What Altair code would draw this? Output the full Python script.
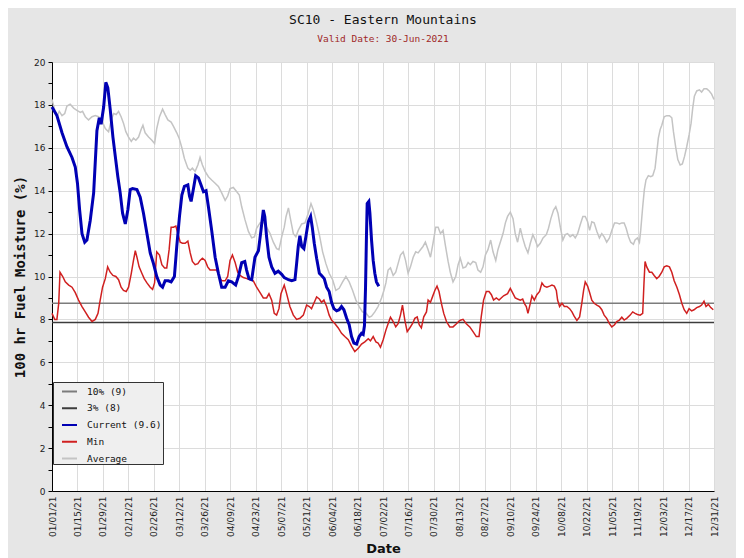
import altair as alt
import pandas as pd

# ---------------- data ----------------
SERIES = ["10% (9)", "3% (8)", "Current (9.6)", "Min", "Average"]
COLORS = ["#7c7c7c", "#3c3c3c", "#0000b4", "#d02020", "#c4c4c4"]

THRESH_NAMES = ["10% (9)", "3% (8)"]
THRESH_VALS = [8.75, 7.85]

# day offsets from 2021-01-01
CUR_DAY = [0, 2.7, 5.5, 8.2, 11, 12.8, 14, 15.2, 16.5, 18, 19.2, 21, 22.9, 24.7, 26, 27, 28.4, 29.6,
           30.7, 32, 33.5, 34.8, 36.2, 37.5, 38.8, 40.3, 41.7, 43, 44.3, 46.7, 48.5, 50.3, 52.2, 54,
           55.8, 57.6, 59.5, 60.8, 62.2, 64, 65.5, 67.3, 68.6, 70.1, 71.4, 72.8, 74.7, 75.6, 76.5,
           77.8, 79, 80.5, 82, 83.3, 84.7, 86, 87.8, 89.7, 91.5, 93.3, 95.2, 97, 98.8, 101, 102.5,
           104.3, 106, 107, 108.3, 109.8, 111.6, 113.5, 114.9, 116.2, 117, 118, 119.3, 120.8, 122.6,
           124.4, 126.3, 127.7, 130, 131.8, 133.6, 134.5, 135.4, 136.3, 137.3, 138.5, 139.6, 140.9,
           142.2, 143.1, 144.2, 145.5, 147, 148.2, 149.7, 151, 152.4, 153.7, 155, 156.5, 157.9,
           159.2, 160.5, 162, 163.4, 164.7, 166, 167.5, 168.9, 170.2, 171.1, 171.8, 172.4, 172.9,
           173.3, 174.2, 174.8, 175.7, 176.6, 177.5, 178.4, 179.7]
CUR_VAL = [17.9, 17.5, 16.7, 16.05, 15.55, 15.1, 14.35, 13.1, 12.0, 11.6, 11.7, 12.6, 13.9, 16.8, 17.4,
           17.1, 17.9, 19.05, 18.8, 17.8, 16.5, 15.6, 14.65, 13.9, 12.95, 12.45, 13.1, 14.05, 14.1,
           14.05, 13.7, 12.95, 12.0, 11.1, 10.6, 10.0, 9.6, 9.5, 9.8, 9.8, 9.75, 10.0, 11.4, 12.8,
           13.8, 14.2, 14.27, 13.75, 13.5, 14.1, 14.7, 14.6, 14.25, 13.95, 14.0, 13.25, 12.15, 10.9,
           10.15, 9.5, 9.5, 9.8, 9.75, 9.6, 10.0, 10.65, 10.7, 10.3, 9.9, 9.85, 10.9, 11.2, 12.15,
           13.1, 12.8, 11.85, 10.9, 10.45, 10.15, 10.25, 10.1, 9.95, 9.85, 9.8, 9.85, 10.6, 11.4,
           11.9, 11.4, 11.3, 11.85, 12.55, 12.8, 12.3, 11.55, 10.85, 10.15, 10.05, 9.9, 9.5, 9.3,
           8.8, 8.5, 8.4, 8.45, 8.6, 8.45, 8.05, 7.75, 7.2, 6.9, 6.85, 7.2, 7.35, 7.3, 7.7, 9.5,
           11.85, 13.4, 13.5, 12.95, 11.7, 10.75, 10.15, 9.75, 9.55]

AVG_DAY = [0, 1.5, 2.7, 4, 5.5, 7, 8.2, 10, 11.9, 13.7, 15.6, 16.8, 18.3, 20.1, 22, 23.8, 25.6, 27.5,
           29.3, 31.1, 32.6, 33.9, 35.3, 36.6, 38, 39.3, 40.6, 42.1, 43.6, 44.8, 46.1, 47.6, 49, 50,
           51.2, 53.1, 54.9, 56.4, 57.6, 59.1, 60.8, 62.2, 63.7, 65.5, 66.8, 68.6, 69.9, 71.4, 72.8,
           74.7, 76, 77.2, 78.7, 80.2, 81.4, 82.7, 84.2, 86, 87.8, 89.7, 91.5, 93.3, 95.2, 96.6,
           97.9, 99.7, 101.6, 103, 104.3, 106.1, 108, 109.8, 111.3, 112.5, 114.4, 116.2, 118,
           119.9, 121.7, 123.5, 124.8, 126.3, 127.7,
           128.7, 130, 131.2, 132.7, 134.1, 135.4, 137.3, 139.1, 140.9, 142.4, 143.7, 145.1, 147,
           148.8, 150.6, 152.4, 154.3, 156.1, 157.9, 159.8, 161.6, 163.4, 165.3, 167.1, 168.9,
           170.7, 172.6, 174.4, 175.7, 177.5, 179.3, 181.2, 182.5, 183.6, 184.8, 186.1, 187.6, 189,
           190.3, 191.6, 193.1, 194.4, 195.8, 197.1, 198.6, 200, 201.3, 202.6, 204, 205.3, 206.8,
           208.1, 209.5, 211, 212.3, 213.6, 215, 216.3, 217.8, 219, 220.5, 222, 223.3, 224.5, 226,
           227.5, 228.8, 230, 231.5, 233, 234.2, 235.7, 237, 238.3, 239.7, 241.2, 242.5, 244, 245.2,
           248, 249.3, 250.5, 252, 253.5, 254.7, 256, 257.5, 258.8, 260.2, 261.7, 263, 264.4, 265.7,
           267, 268.5, 270, 271.8, 273, 274.3, 275.8, 277, 278.2, 279.5, 280.9, 282.2, 283.5, 284.9,
           286.4, 287.7, 289, 290.4, 291.9, 293.2, 294.5, 295.6, 296.8, 298.1, 299.6, 301, 302.3,
           303.6, 305, 306.5, 307.8, 309.3, 310.5, 312, 313.3, 314.6, 315.7, 317, 318.2, 319.7,
           320.6, 321.9, 323, 323.7, 324.8, 325.7, 326.6, 327.9, 329.2, 330.3, 331.6, 332.5, 333.4,
           334.4, 335.3, 336.6, 338, 339.5, 340.8, 341.7, 343, 344.1, 345.4, 346.6, 347.8, 349,
           350.3, 351.4, 352.3, 353.2, 354.5, 356, 357.2, 358.5, 360, 361.4, 362.7, 364]
AVG_VAL = [18.25, 17.75, 17.45, 17.7, 17.5, 17.6, 17.95, 18.03, 17.85, 17.75, 17.65, 17.7, 17.45, 17.3,
           17.45, 17.5, 17.45, 17.25, 16.9, 16.75, 17.3, 17.6, 17.55, 17.7, 17.45, 17.15, 16.75,
           16.5, 16.3, 16.45, 16.35, 16.5, 16.85, 17.05, 16.7, 16.5, 16.35, 16.2, 16.9, 17.45, 17.8,
           17.55, 17.3, 17.2, 17.0, 16.7, 16.45, 16.0, 15.5, 15.05, 14.95, 15.05, 14.9, 15.2, 15.55,
           15.2, 14.9, 14.65, 14.5, 14.35, 14.2, 13.9, 13.55, 13.75, 14.1, 14.15, 13.95, 13.8, 13.25,
           12.65, 12.1, 11.8, 11.85, 12.25, 12.5, 12.55, 12.3, 12.0, 11.6, 11.3, 11.25, 11.85, 12.3,
           12.8, 13.2, 12.65, 12.0, 11.85, 12.15, 12.45, 12.5, 12.95, 13.4, 13.1, 12.65, 11.95,
           11.15, 10.6, 10.15, 9.85, 9.35, 9.45, 9.75, 10.0, 9.75, 9.35, 8.9, 8.6, 8.35, 8.3, 8.1,
           8.15, 8.35, 8.6, 9.0, 9.35, 9.7, 10.3, 10.4, 10.05, 10.2, 10.6, 11.0, 11.15, 10.75, 10.15,
           10.45, 10.9, 11.15, 11.1, 11.25, 11.4, 11.6, 11.25, 10.9, 11.55, 12.3, 12.3, 12.0, 12.15,
           11.45, 10.7, 10.2, 9.75, 10.0, 10.55, 10.85, 10.4, 10.45, 10.65, 10.55, 10.7, 10.65, 10.3,
           10.2, 10.45, 11.0, 11.25, 11.7, 11.15, 10.75, 11.25,
           12.0, 12.5, 12.8, 13.0, 12.7, 12.0, 11.6, 12.25, 11.8, 11.4, 11.1, 11.55, 11.95, 11.7,
           11.4, 11.55, 11.8, 11.95, 12.25, 12.7, 13.1, 13.25, 12.95, 12.3, 11.7, 11.95, 12.0, 11.85,
           11.95, 11.8, 12.0, 12.4, 12.8, 12.8, 12.55, 12.15, 12.55, 12.5, 12.1, 11.8, 12.0, 11.85,
           11.6, 11.8, 12.15, 12.5, 12.5, 12.45, 12.5, 12.5, 12.25, 11.85, 11.6, 11.5, 11.7, 11.8,
           11.6, 12.15, 13.25, 14.05, 14.5, 14.7, 14.65, 14.7, 15.05, 15.75, 16.45, 16.85, 17.05,
           17.45, 17.5, 17.5, 17.4, 16.75, 16.0, 15.45, 15.2, 15.25, 15.6, 16.05, 16.6, 17.15, 17.85,
           18.4, 18.65, 18.7, 18.6, 18.75, 18.75, 18.65, 18.5, 18.25]

MIN_DAY = [0, 1.5, 2.7, 3.7, 4.4, 5.9, 7.3, 9.2, 11, 12.8, 14.6, 16.5, 18.3, 20.1, 22, 23.8, 25.3, 26.5,
           27.8, 29.3, 30.6, 32, 33.5, 35.1, 36.6, 38, 39.3, 40.8, 42.1, 43.6, 44.8, 45.8, 46.7,
           47.9, 49.4, 50.7, 52.2, 54, 55.3, 56.4, 57.6, 59.1, 60.4, 61.9, 63.1, 64.4, 65.5, 66.8,
           68.1, 69.2, 70.5, 71.7, 73.2, 74.7, 76, 77.2, 78.7, 80.2, 81.4, 82.7, 84.2, 85.6, 86.9,
           88.8, 90.6, 91.9, 93.3, 95.2, 96.6, 97.9, 99.2, 100.7, 102.1, 103.4, 105.2, 107.1, 108.9,
           110.7, 112.5, 114.4, 116.2, 118, 119.3, 120.8, 122.2, 123.5, 124.8, 125.9, 127.7,
           129, 130.8, 132.7, 134.5, 136.3, 138.2, 140, 141.5, 142.7, 144, 145.5, 147, 148.2, 149.5,
           151, 152.4, 153.7, 155.6, 157.4, 159.2, 161, 162.9, 164.7, 166.5, 168.4, 170.2, 172,
           173.9, 175.1, 176.6, 178.1, 179.3, 180.6, 182.1, 183.6, 184.8, 186.1, 187.6, 189, 190.3,
           191.6, 192.7, 194, 195.3, 196.7, 198.2, 199.5, 200.8, 201.9, 203.1, 204.4, 205.9, 206.8,
           208.1, 209.2, 210.5, 211.7, 212.8, 214.1, 215.4, 216.9, 218.7, 220.5, 222.4, 224.2, 226,
           227.8, 229.7, 231.5, 233.3, 234.8, 236, 237.3, 238.8, 240.3, 241.6, 242.8, 244.3, 245.8,
           247, 248.3,
           250.5, 252, 253.5, 254.7, 256, 257.5, 258.8, 259.7, 260.8, 261.7, 263, 263.9, 265.2,
           266.6, 268.1, 269.4, 270.7, 272.1, 273.6, 274.9, 276.2, 277.3, 278, 279.1, 280.4, 281.7,
           283.1, 284.6, 285.9, 287.1, 288.6, 290.1, 291.3, 292.3, 293.2, 294.5, 295.6, 296.8, 298.1,
           299.6, 301, 302.3, 303.6, 305, 306.5, 307.8, 309.3, 310.5, 312, 313.3, 314.6, 316, 317.9,
           319.3, 320.6, 321.9, 323.4, 324.8, 325.5, 326.1, 327, 328.5, 329.8, 331.1, 332.5, 333.8,
           335.3, 336.6, 338, 339.5, 340.8, 342.1, 343.6, 345, 346.3, 347.6, 349, 350.3, 351.7, 353,
           354.5, 356, 357.2, 358.5, 359.6, 360.9, 362.2, 363.6]
MIN_VAL = [8.28, 8.0, 8.0, 8.75, 10.2, 10.0, 9.75, 9.6, 9.5, 9.25, 8.9, 8.6, 8.35, 8.1, 7.9, 8.0, 8.28,
           8.9, 9.5, 9.9, 10.45, 10.2, 10.05, 10.0, 9.85, 9.5, 9.35, 9.3, 9.5, 10.15, 10.75, 11.2,
           10.9, 10.45, 10.15, 9.9, 9.7, 9.5, 9.4, 9.7, 11.15, 11.0, 10.55, 10.4, 10.4, 11.25, 12.3,
           12.3, 12.35, 12.0, 11.6, 11.55, 11.55, 11.65, 11.1, 10.7, 10.55, 10.6, 10.75, 10.85,
           10.75, 10.45, 10.3, 10.3, 10.3, 10.0, 9.8, 9.8, 10.0, 10.75, 11.0, 10.65, 10.2, 10.05,
           9.95, 9.9, 9.85, 9.8, 9.5, 9.25, 9.0, 9.0, 9.2, 8.9, 8.28, 8.2, 8.5, 9.2, 9.6,
           9.2, 8.6, 8.2, 8.0, 8.05, 8.2, 8.67, 8.6, 8.5, 8.75, 9.05, 8.95, 8.8, 8.9, 8.6, 8.2,
           7.97, 7.8, 7.6, 7.35, 7.2, 7.05, 6.75, 6.5, 6.65, 6.85, 6.95, 7.1, 7.0, 7.2, 6.95, 6.9,
           6.7, 7.05, 7.5, 7.8, 8.1, 7.9, 7.65, 7.8, 8.2, 8.67, 7.97, 7.43, 7.6, 7.8, 8.05, 8.12,
           7.75, 7.6, 8.12, 8.35, 8.9, 8.8, 9.05, 9.35, 9.55, 9.3, 8.75, 8.28, 7.9, 7.65, 7.65, 7.8,
           7.95, 8.0, 7.8, 7.65, 7.43, 7.2, 7.2, 8.12, 8.9, 9.3, 9.3, 9.15, 8.9, 9.0, 8.9, 9.0, 9.1,
           9.2, 9.45, 9.2, 9.0, 8.95, 8.9, 8.95, 8.75, 8.6, 8.28, 8.75, 9.1, 8.9, 9.15, 9.3, 9.7,
           9.55, 9.5, 9.55, 9.6, 9.55, 9.35, 8.9, 8.6, 8.75, 8.6, 8.6, 8.5, 8.35, 8.15, 7.95, 8.12,
           8.75, 9.35, 9.75, 9.55, 9.25, 8.9, 8.75, 8.67, 8.6, 8.45, 8.2, 8.05, 7.8, 7.65, 7.75,
           7.9, 7.97, 8.1, 7.97, 8.05, 8.2, 8.35, 8.28, 8.23, 8.2, 8.28, 9.7, 10.7, 10.45, 10.2,
           10.2, 10.05, 9.9, 10.0, 10.2, 10.45, 10.5, 10.45, 10.2, 9.8, 9.5, 9.15, 8.75, 8.45, 8.28,
           8.5, 8.4, 8.45, 8.55, 8.6, 8.67, 8.85, 8.6, 8.7, 8.55, 8.45]

Y_TICKS = list(range(0, 21))

# ---------------- frames ----------------
START = pd.Timestamp("2021-01-01")


def frame(days, vals, name):
    stamps = [(START + pd.to_timedelta(d, unit="D")).strftime("%Y-%m-%dT%H:%M:%S") for d in days]
    return pd.DataFrame({"date": stamps, "value": vals, "series": name})


cur_df = frame(CUR_DAY, CUR_VAL, "Current (9.6)")
avg_df = frame(AVG_DAY, AVG_VAL, "Average")
min_df = frame(MIN_DAY, MIN_VAL, "Min")
thr_df = pd.DataFrame({"series": THRESH_NAMES, "value": THRESH_VALS})

tick_days = [START + pd.Timedelta(days=14 * k) for k in range(27)]
X_TICKS = [alt.DateTime(year=t.year, month=t.month, date=t.day) for t in tick_days]

LABEL_FONT = "DejaVu Sans"
MONO = "DejaVu Sans Mono"
NBSP = "\u00a0"

x_enc = alt.X(
    "date:T",
    scale=alt.Scale(domain=[alt.DateTime(year=2021, month=1, date=1),
                            alt.DateTime(year=2021, month=12, date=31)]),
    axis=alt.Axis(
        values=X_TICKS, format="%m/%d/%y", labelAngle=270, labelFont=LABEL_FONT,
        labelFontSize=9, labelColor="#222222", labelPadding=5, tickSize=0,
        title="Date", titleFont=LABEL_FONT, titleFontSize=13, titleFontWeight="bold",
        titlePadding=6, titleColor="#111111",
        domainColor="#000000", gridColor="#dcdcdc", grid=True, labelOverlap=False,
    ),
)

y_enc = alt.Y(
    "value:Q",
    scale=alt.Scale(domain=[0, 20], nice=False),
    axis=alt.Axis(
        values=Y_TICKS,
        labelExpr="datum.value % 2 == 0 ? datum.label : ''",
        gridOpacity={"condition": {"test": "datum.value % 2 == 0", "value": 1}, "value": 0},
        gridColor="#dcdcdc", tickSize=4, tickColor="#000000", domainColor="#000000",
        labelFont=LABEL_FONT, labelFontSize=9, labelColor="#222222", labelPadding=3,
        title="100 hr Fuel Moisture (%)", titleFont=MONO, titleFontSize=14,
        titleFontWeight="bold", titlePadding=6, titleColor="#111111",
    ),
)

color_enc = alt.Color(
    "series:N",
    scale=alt.Scale(domain=SERIES, range=COLORS),
    legend=alt.Legend(
        title=None, orient="none", legendX=1, legendY=320, symbolType="stroke",
        symbolStrokeWidth=2, symbolSize=225, symbolOffset=7, fillColor="#efefef",
        strokeColor="#333333", padding=1, labelFont=MONO, labelFontSize=9.5,
        labelColor="#111111", rowPadding=3.75, labelOffset=9,
        labelExpr="datum.label + '" + NBSP * 3 + "'",
    ),
)

rules = alt.Chart(thr_df).mark_rule(strokeWidth=1.5).encode(y=y_enc, color=color_enc)
avg = alt.Chart(avg_df).mark_line(strokeWidth=1.5).encode(x=x_enc, y=y_enc, color=color_enc)
mn = alt.Chart(min_df).mark_line(strokeWidth=1.5).encode(x=x_enc, y=y_enc, color=color_enc)
cur = alt.Chart(cur_df).mark_line(strokeWidth=3).encode(x=x_enc, y=y_enc, color=color_enc)

chart = (
    alt.layer(rules, avg, mn, cur)
    .properties(
        width=662,
        height=429,
        padding={"left": 44, "top": 54, "right": 22, "bottom": 67},
        autosize=alt.AutoSizeParams(type="none"),
        title=alt.TitleParams(
            "SC10 - Eastern Mountains",
            subtitle="Valid Date: 30-Jun-2021",
            font=MONO, fontSize=13, fontWeight="normal", color="#111111",
            subtitleFont=MONO, subtitleFontSize=9.5, subtitleColor="#a02828",
            subtitlePadding=7, anchor="middle", offset=15,
        ),
    )
    .configure(background="#e6e6e6")
    .configure_view(fill="#ffffff", stroke="transparent")
)

chart.save("out.html", embed_options={"renderer": "svg", "actions": False})
